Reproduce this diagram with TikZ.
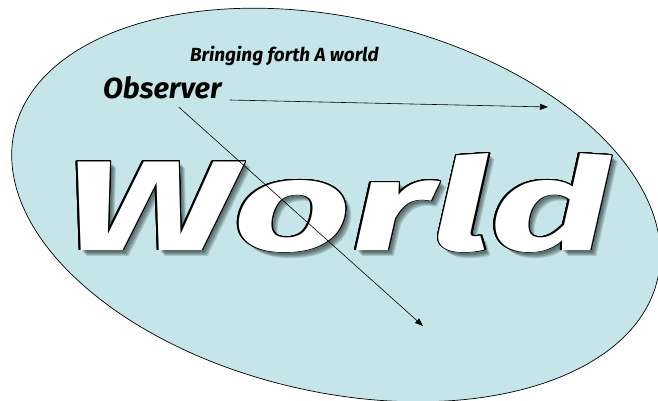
\documentclass[tikz,border=0pt]{standalone}
\usepackage{fontspec}
\setmainfont{Fira Sans}
\usepackage[copies]{contour}
\usetikzlibrary{arrows.meta,positioning,calc}
\definecolor{wdpale}{HTML}{C6E5E8}
\definecolor{wdshade}{HTML}{1E2A2C}
\contourlength{0.9pt}
\contournumber{24}

\begin{document}
\begin{tikzpicture}[
 x=1pt, y=-1pt, >={Triangle[length=8pt,width=6pt]},
 font=\bfseries\itshape,
 wtext/.style={inner sep=0pt,anchor=base west},
 bigword/.style={inner sep=0pt,anchor=base west},
 pointer/.style={->,line width=0.6pt}
]
\useasboundingbox (0,0) rectangle (658,401);
\draw[fill=wdpale,line width=0.7pt,rotate around={-13:(336,205)}]
 (336,205) ellipse [x radius=330, y radius=187];
% shadow under the big word
\foreach \d in {2,3,4,5,6}
 \node[bigword,text=wdshade,opacity=0.18] at (63+\d,250+\d)
  {\resizebox{547pt}{97pt}{\fontsize{138pt}{138pt}\selectfont World}};
\node[bigword] (world) at (63,250)
 {\resizebox{547pt}{97pt}{\fontsize{138pt}{138pt}\selectfont\color{white}\contour{black}{World}}};
\node[wtext,font=\bfseries\itshape\fontsize{19}{19}\selectfont] (title) at (190,62) {Bringing forth A world};
\node[wtext,font=\bfseries\itshape\fontsize{29}{29}\selectfont] (observer) at (103,99) {Observer};
\coordinate (hend) at (548,107);
\coordinate (dend) at (423,326);
\draw[pointer] ([shift={(8,1)}]observer.base east) -- (hend);
\draw[pointer] ([shift={(-43,8)}]observer.base east) -- (dend);
\end{tikzpicture}
\end{document}
